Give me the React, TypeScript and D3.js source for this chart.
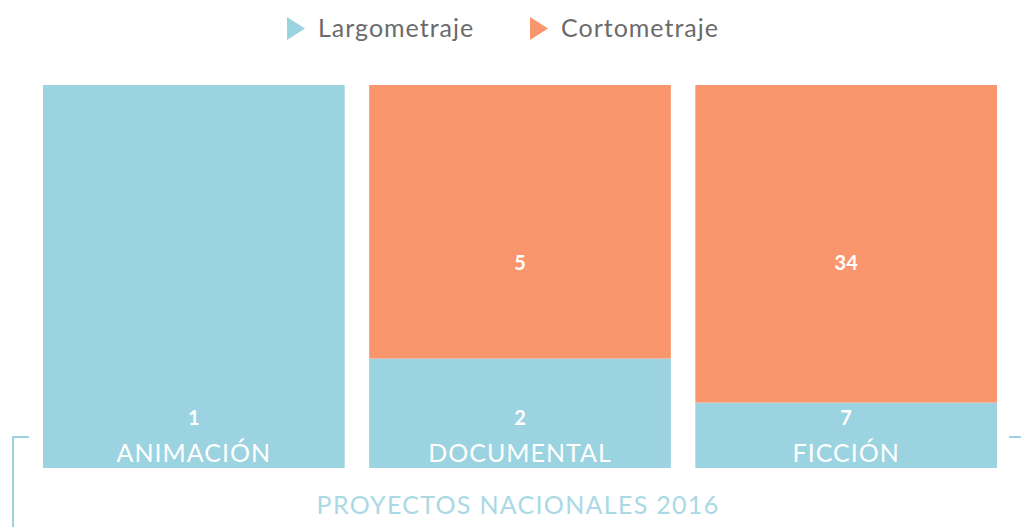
import React, { useEffect, useRef } from 'react';
import * as d3 from 'd3';

const categories = ['ANIMACIÓN', 'DOCUMENTAL', 'FICCIÓN'];
const largometraje = [1, 2, 7];
const cortometraje = [0, 5, 34];
const seriesNames = ['Largometraje', 'Cortometraje'];
const title = 'PROYECTOS NACIONALES 2016';

const BLUE = '#9bd3e0';
const ORANGE = '#f9966e';
const FONT = 'Lato, "Open Sans", sans-serif';

export default function App() {
  const node = useRef<SVGSVGElement>(null);

  useEffect(() => {
    const svg = d3.select(node.current);
    svg.selectAll('*').remove();

    const width = 1021;
    const height = 527;

    const x = d3.scaleBand<string>()
      .domain(categories)
      .range([43, 997])
      .paddingInner(0.075)
      .paddingOuter(0);

    const y = d3.scaleLinear().domain([0, 1]).range([468, 85]);

    const rows = categories.map((c, i) => ({
      cat: c,
      largo: largometraje[i],
      corto: cortometraje[i],
      total: largometraje[i] + cortometraje[i],
    }));

    const stack = d3.stack<any>()
      .keys(['largo', 'corto'])
      .value((d, k) => d[k] / d.total);
    const layers = stack(rows);
    const colors = d3.scaleOrdinal<string>().domain(['largo', 'corto']).range([BLUE, ORANGE]);

    svg.attr('width', width).attr('height', height);

    // bars
    const g = svg.append('g');
    layers.forEach((layer) => {
      g.selectAll('rect.' + layer.key)
        .data(layer.filter((d) => d[1] - d[0] > 0))
        .enter()
        .append('rect')
        .attr('class', layer.key)
        .attr('x', (d) => x(d.data.cat)!)
        .attr('width', x.bandwidth())
        .attr('y', (d) => y(d[1]))
        .attr('height', (d) => y(d[0]) - y(d[1]))
        .attr('fill', colors(layer.key));
    });

    // orange values, all on one line
    const cortoLayer = layers[1];
    g.selectAll('text.corto-val')
      .data(cortoLayer.filter((d) => d[1] - d[0] > 0))
      .enter()
      .append('text')
      .attr('class', 'corto-val')
      .attr('x', (d) => x(d.data.cat)! + x.bandwidth() / 2)
      .attr('y', y(0.535))
      .attr('dy', '0.35em')
      .attr('text-anchor', 'middle')
      .attr('fill', '#fff')
      .attr('font-family', FONT)
      .attr('font-weight', 700)
      .attr('font-size', 20)
      .text((d) => d.data.corto);

    // blue values + category labels at the bottom
    g.selectAll('text.largo-val')
      .data(rows)
      .enter()
      .append('text')
      .attr('x', (d) => x(d.cat)! + x.bandwidth() / 2)
      .attr('y', y(0) - 43)
      .attr('text-anchor', 'middle')
      .attr('fill', '#fff')
      .attr('font-family', FONT)
      .attr('font-weight', 700)
      .attr('font-size', 20)
      .text((d) => d.largo);

    g.selectAll('text.cat')
      .data(rows)
      .enter()
      .append('text')
      .attr('x', (d) => x(d.cat)! + x.bandwidth() / 2)
      .attr('y', y(0) - 6)
      .attr('text-anchor', 'middle')
      .attr('fill', '#fff')
      .attr('font-family', FONT)
      .attr('font-size', 25)
      .attr('letter-spacing', 1)
      .text((d) => d.cat);

    // bracket
    svg.append('path')
      .attr('d', 'M29,437H13V527')
      .attr('fill', 'none')
      .attr('stroke', BLUE)
      .attr('stroke-width', 2);
    svg.append('path')
      .attr('d', 'M1009,437H1021')
      .attr('fill', 'none')
      .attr('stroke', BLUE)
      .attr('stroke-width', 2);

    // title
    svg.append('text')
      .attr('x', 518)
      .attr('y', 514)
      .attr('text-anchor', 'middle')
      .attr('fill', '#a9d9e5')
      .attr('font-family', FONT)
      .attr('font-size', 25)
      .attr('letter-spacing', 1.3)
      .text(title);

    // legend
    const legendX = [287, 530];
    const legend = svg.append('g');
    seriesNames.forEach((name, i) => {
      const lg = legend.append('g').attr('transform', `translate(${legendX[i]},0)`);
      lg.append('path')
        .attr('d', 'M0,17L18,28.5L0,40Z')
        .attr('fill', i === 0 ? BLUE : ORANGE);
      lg.append('text')
        .attr('x', 31)
        .attr('y', 37)
        .attr('fill', '#6b6b6b')
        .attr('font-family', FONT)
        .attr('font-size', 25)
        .attr('letter-spacing', 1)
        .text(name);
    });
  }, []);

  return <svg ref={node} style={{ display: 'block', position: 'absolute', left: 0, top: 0 }} />;
}
